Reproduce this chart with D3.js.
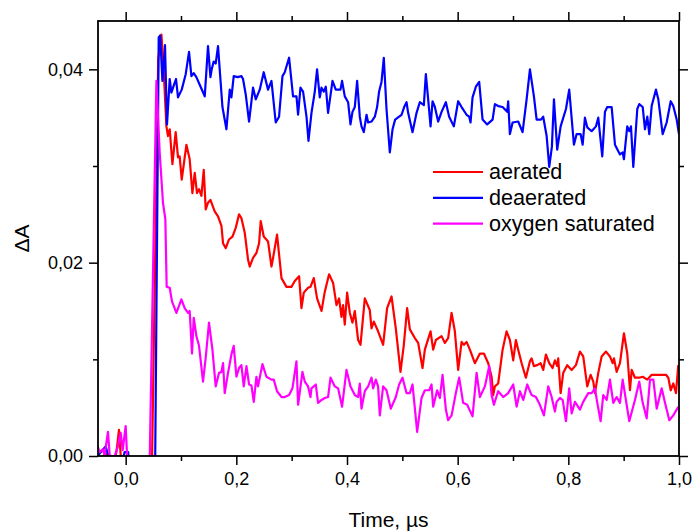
<!DOCTYPE html>
<html>
<head>
<meta charset="utf-8">
<script src="https://cdn.jsdelivr.net/npm/d3@7"></script>
<style>
  body { margin: 0; background: #fff; }
  svg { display: block; font-family: "Liberation Sans", Arial, sans-serif; }
</style>
</head>
<body>
<svg class="kinetics"></svg>
<script>
// Legend / series
const seriesNames = ["aerated", "deaerated", "oxygen saturated"];
const seriesColors = ["#ff0000", "#0000ff", "#ff00ff"];

// Ticks
const xMajorTicks = [0, 0.2, 0.4, 0.6, 0.8, 1.0];
const xMinorTicks = [0.1, 0.3, 0.5, 0.7, 0.9];
const yMajorTicks = [0, 0.02, 0.04];
const yMinorTicks = [0.01, 0.03];

// [time (µs), ΔA]
const aerated = [[-0.0506,-0.0006],[-0.0398,0],[-0.0362,0.0003],[-0.0326,-0.0006],[-0.0199,-0.0006],[-0.0163,0.0006],[-0.0121,0.0027],[-0.009,0.0001],[-0.0054,-0.0006],[0.0476,-0.0006],[0.0588,0.041],[0.0646,0.0436],[0.0687,0.04],[0.0736,0.0341],[0.0765,0.0331],[0.0796,0.0338],[0.0845,0.0302],[0.0904,0.0335],[0.0946,0.0309],[0.0976,0.031],[0.1013,0.0286],[0.1098,0.0322],[0.1157,0.0307],[0.1206,0.0272],[0.1248,0.0293],[0.1289,0.0272],[0.1326,0.0276],[0.1369,0.0269],[0.1411,0.0296],[0.1447,0.0255],[0.1488,0.0262],[0.1532,0.0265],[0.1609,0.0253],[0.1669,0.0248],[0.1731,0.0238],[0.176,0.022],[0.1808,0.0215],[0.1868,0.0224],[0.193,0.0227],[0.1989,0.0236],[0.2049,0.025],[0.2092,0.0246],[0.2152,0.0231],[0.2212,0.0203],[0.2242,0.0196],[0.2302,0.0205],[0.2363,0.021],[0.2411,0.022],[0.2441,0.0243],[0.2495,0.0227],[0.2573,0.0222],[0.2635,0.0196],[0.2664,0.0205],[0.2736,0.0229],[0.2816,0.0184],[0.2906,0.0175],[0.2996,0.0175],[0.3056,0.0181],[0.3134,0.0186],[0.3177,0.0153],[0.3219,0.0169],[0.3297,0.0174],[0.334,0.0175],[0.34,0.0184],[0.3459,0.0163],[0.3539,0.015],[0.3599,0.017],[0.3676,0.0188],[0.3749,0.0179],[0.381,0.0156],[0.3857,0.0163],[0.39,0.0144],[0.3929,0.0156],[0.396,0.0136],[0.4002,0.0169],[0.4051,0.0148],[0.4099,0.0138],[0.4141,0.015],[0.4201,0.012],[0.4244,0.0115],[0.4322,0.0163],[0.4412,0.0151],[0.4443,0.0132],[0.4485,0.0139],[0.4562,0.0129],[0.4653,0.0115],[0.4725,0.0153],[0.4805,0.0165],[0.4882,0.0132],[0.4967,0.0087],[0.5027,0.0115],[0.5087,0.0153],[0.5136,0.0131],[0.5226,0.0122],[0.5286,0.0117],[0.5365,0.0091],[0.5407,0.011],[0.551,0.0129],[0.5557,0.011],[0.5606,0.012],[0.5709,0.0124],[0.5769,0.0117],[0.5828,0.0122],[0.589,0.0148],[0.5949,0.0129],[0.6009,0.0089],[0.6071,0.0118],[0.6112,0.0115],[0.6161,0.0118],[0.6221,0.011],[0.6311,0.0096],[0.6402,0.0106],[0.6474,0.0106],[0.6552,0.0096],[0.6613,0.0082],[0.6642,0.0063],[0.6673,0.0072],[0.6732,0.0075],[0.6812,0.011],[0.6884,0.0129],[0.6944,0.012],[0.7004,0.0099],[0.7052,0.012],[0.7094,0.011],[0.7156,0.0096],[0.7233,0.0081],[0.7306,0.0098],[0.7336,0.0101],[0.7378,0.0093],[0.7438,0.0094],[0.7499,0.0096],[0.7546,0.0089],[0.7595,0.0105],[0.7655,0.0096],[0.7716,0.0091],[0.7758,0.0099],[0.7799,0.0093],[0.7817,0.0101],[0.7861,0.0065],[0.7908,0.0086],[0.798,0.0094],[0.806,0.0089],[0.8137,0.0094],[0.821,0.0108],[0.8269,0.0103],[0.8342,0.0072],[0.8403,0.0084],[0.8451,0.0077],[0.8481,0.0065],[0.8541,0.0086],[0.8602,0.0103],[0.868,0.0108],[0.8752,0.0103],[0.8801,0.0096],[0.8825,0.0101],[0.8873,0.0087],[0.8933,0.0096],[0.9005,0.0127],[0.9065,0.0106],[0.9114,0.0068],[0.9145,0.0089],[0.9204,0.0081],[0.9282,0.0081],[0.9344,0.0082],[0.9427,0.0079],[0.9506,0.0084],[0.9626,0.0084],[0.9765,0.0084],[0.9807,0.0081],[0.985,0.0068],[0.9897,0.0075],[0.9946,0.0065],[0.9987,0.0094]];

const deaerated = [[-0.0506,0],[-0.0434,0.0005],[-0.0362,0.001],[-0.031,0],[-0.0036,0],[-0.0018,0.0004],[0.0045,0.0004],[0.0063,-0.0009],[0.0533,-0.0009],[0.0597,0.0433],[0.0624,0.0435],[0.0664,0.0388],[0.0711,0.0425],[0.0747,0.0343],[0.0796,0.039],[0.0826,0.0376],[0.0873,0.0384],[0.091,0.039],[0.0946,0.0371],[0.1013,0.0379],[0.1085,0.0395],[0.1145,0.0418],[0.1188,0.0393],[0.123,0.0396],[0.1278,0.0392],[0.1338,0.0384],[0.1392,0.0377],[0.1429,0.0372],[0.1488,0.0424],[0.1532,0.0392],[0.1555,0.04],[0.1591,0.0408],[0.1627,0.0406],[0.1669,0.0424],[0.1749,0.0361],[0.1821,0.0338],[0.1881,0.0379],[0.1911,0.0371],[0.1953,0.0393],[0.2025,0.0392],[0.2092,0.0393],[0.2121,0.039],[0.217,0.0374],[0.223,0.0346],[0.2302,0.0381],[0.2351,0.0369],[0.2423,0.0379],[0.2495,0.0397],[0.2573,0.0379],[0.2635,0.0388],[0.2712,0.0345],[0.2772,0.0351],[0.2834,0.0393],[0.2875,0.0397],[0.2953,0.0412],[0.3025,0.0372],[0.3087,0.0372],[0.3116,0.0353],[0.3159,0.0381],[0.3206,0.0377],[0.3268,0.0351],[0.3304,0.0326],[0.3358,0.0355],[0.3418,0.0377],[0.3459,0.04],[0.3508,0.0371],[0.3539,0.0381],[0.3581,0.0377],[0.3617,0.0382],[0.3658,0.0355],[0.3738,0.0388],[0.3797,0.0379],[0.3882,0.0379],[0.3911,0.0388],[0.396,0.0372],[0.402,0.0366],[0.4063,0.0343],[0.4099,0.0356],[0.4141,0.0361],[0.4183,0.0388],[0.4231,0.0351],[0.4262,0.0341],[0.4304,0.0335],[0.4353,0.0353],[0.4382,0.0345],[0.4443,0.0346],[0.4503,0.0351],[0.4544,0.0361],[0.458,0.0377],[0.4624,0.0387],[0.4665,0.0412],[0.4714,0.0359],[0.4774,0.0314],[0.4823,0.0338],[0.487,0.0348],[0.4942,0.0351],[0.4986,0.0353],[0.5033,0.0361],[0.5076,0.0366],[0.5105,0.0355],[0.5184,0.0335],[0.5257,0.0355],[0.5316,0.0366],[0.5389,0.0363],[0.5425,0.0395],[0.5467,0.0369],[0.551,0.0341],[0.5546,0.0367],[0.5588,0.0361],[0.5647,0.0346],[0.5709,0.0356],[0.5787,0.0366],[0.5846,0.0351],[0.5931,0.0341],[0.6009,0.0367],[0.6071,0.0361],[0.6161,0.0353],[0.6208,0.0351],[0.6233,0.0345],[0.6269,0.0371],[0.6329,0.0382],[0.6389,0.0387],[0.645,0.0348],[0.6533,0.0343],[0.6631,0.0348],[0.6673,0.0364],[0.6732,0.0362],[0.6812,0.0361],[0.6895,0.0356],[0.6913,0.0367],[0.6944,0.0333],[0.6993,0.0345],[0.7094,0.0346],[0.7173,0.0335],[0.7246,0.0369],[0.7306,0.04],[0.7378,0.0372],[0.7427,0.0348],[0.7505,0.0348],[0.7546,0.0351],[0.7608,0.0331],[0.7655,0.0299],[0.7703,0.032],[0.774,0.0369],[0.7799,0.0317],[0.7861,0.0341],[0.7957,0.0359],[0.8016,0.0379],[0.8101,0.0322],[0.815,0.0333],[0.8222,0.0333],[0.8259,0.0322],[0.83,0.035],[0.8342,0.034],[0.8421,0.0336],[0.8499,0.0341],[0.8541,0.035],[0.8613,0.031],[0.8662,0.0356],[0.8703,0.0361],[0.8783,0.0361],[0.8843,0.0322],[0.8933,0.0312],[0.8982,0.0314],[0.9005,0.0307],[0.9065,0.0341],[0.9101,0.0336],[0.9132,0.0341],[0.9174,0.0299],[0.9246,0.0359],[0.9282,0.0364],[0.9344,0.0361],[0.9385,0.0338],[0.9427,0.0351],[0.9463,0.0333],[0.9506,0.0362],[0.9584,0.0379],[0.9626,0.0369],[0.9705,0.0333],[0.9777,0.0345],[0.985,0.0367],[0.9897,0.0362],[0.9958,0.0348],[1.0,0.0333]];

const oxygenSaturated = [[-0.0506,0.001],[-0.047,0.0004],[-0.0416,0.0007],[-0.038,0.0001],[-0.032,0.0025],[-0.0289,0.0001],[-0.0259,0],[-0.0199,0],[-0.0145,0.0009],[-0.009,0.0024],[-0.0054,0.0006],[0,0.0031],[0.0031,-0.0006],[0.0434,-0.0006],[0.0555,0.0388],[0.0615,0.0314],[0.0674,0.0262],[0.0717,0.0245],[0.0741,0.0175],[0.0796,0.0174],[0.0837,0.016],[0.0917,0.0148],[0.1007,0.0162],[0.1067,0.0153],[0.1127,0.0148],[0.1157,0.015],[0.1199,0.0106],[0.123,0.0143],[0.1278,0.0124],[0.1326,0.0114],[0.1398,0.0077],[0.1447,0.0102],[0.1506,0.0138],[0.1568,0.011],[0.1627,0.0072],[0.1687,0.0086],[0.1731,0.0087],[0.176,0.0096],[0.179,0.0065],[0.185,0.0086],[0.1911,0.0105],[0.1953,0.0114],[0.2002,0.0082],[0.2049,0.0091],[0.2092,0.0094],[0.2134,0.0072],[0.2183,0.0093],[0.223,0.0074],[0.2273,0.0073],[0.2315,0.0056],[0.2363,0.0082],[0.2392,0.0072],[0.2472,0.0095],[0.2544,0.0082],[0.2635,0.0079],[0.2676,0.0079],[0.2736,0.0067],[0.2816,0.0061],[0.2875,0.0061],[0.2953,0.0063],[0.3014,0.007],[0.3087,0.0098],[0.3116,0.0053],[0.3195,0.0087],[0.3237,0.0077],[0.3297,0.0072],[0.334,0.0061],[0.3358,0.007],[0.3436,0.0074],[0.3477,0.0055],[0.3539,0.0058],[0.3599,0.006],[0.3658,0.0061],[0.3702,0.0081],[0.378,0.0072],[0.3839,0.007],[0.3911,0.0051],[0.3991,0.0089],[0.4063,0.0072],[0.4141,0.0063],[0.4201,0.0061],[0.4231,0.0075],[0.4262,0.0049],[0.4322,0.0067],[0.4382,0.0072],[0.4443,0.0081],[0.4472,0.007],[0.4521,0.0079],[0.4562,0.0072],[0.4593,0.0042],[0.4653,0.0072],[0.4714,0.0068],[0.4792,0.0049],[0.4882,0.0061],[0.4942,0.0074],[0.5003,0.0081],[0.5076,0.0065],[0.5136,0.0065],[0.5184,0.0074],[0.5268,0.0025],[0.5347,0.006],[0.5407,0.0068],[0.5485,0.0068],[0.5528,0.0074],[0.5557,0.0051],[0.5629,0.0068],[0.5678,0.006],[0.5727,0.0084],[0.5787,0.0048],[0.5828,0.0037],[0.589,0.0042],[0.5967,0.0065],[0.6027,0.0081],[0.6099,0.0055],[0.6172,0.0053],[0.6269,0.0041],[0.6342,0.0086],[0.6402,0.0061],[0.6492,0.0072],[0.657,0.0093],[0.6613,0.0063],[0.6655,0.0053],[0.6732,0.0067],[0.6823,0.0061],[0.6913,0.0065],[0.7004,0.0074],[0.7065,0.0051],[0.7125,0.0067],[0.7185,0.0058],[0.7257,0.0074],[0.7336,0.0063],[0.7414,0.0061],[0.7486,0.0053],[0.7559,0.0042],[0.7637,0.0072],[0.7698,0.0061],[0.7758,0.0046],[0.7788,0.0056],[0.7848,0.006],[0.7897,0.0058],[0.7957,0.0036],[0.8016,0.007],[0.806,0.0044],[0.812,0.0056],[0.821,0.0048],[0.8269,0.0056],[0.836,0.0065],[0.8421,0.0065],[0.8481,0.007],[0.8523,0.0055],[0.8584,0.0036],[0.8631,0.0063],[0.8693,0.0058],[0.8752,0.0079],[0.8812,0.0055],[0.8873,0.0061],[0.8933,0.0055],[0.8982,0.0079],[0.9054,0.0053],[0.9101,0.0036],[0.9204,0.0058],[0.9282,0.0077],[0.9344,0.0055],[0.9416,0.0039],[0.9476,0.0079],[0.9536,0.0079],[0.9597,0.0049],[0.9687,0.007],[0.9747,0.0055],[0.9825,0.0037],[0.9897,0.0042],[0.9987,0.0051]];

const allSeries = [aerated, deaerated, oxygenSaturated];

function makeChart() {
    const svgWidth = 695,
        svgHeight = 532;
    const margin = { top: 21, right: 16, bottom: 76, left: 98 };
    const width = svgWidth - margin.left - margin.right;
    const height = svgHeight - margin.top - margin.bottom;

    const canvas = d3.select(".kinetics")
        .attr("width", svgWidth)
        .attr("height", svgHeight);

    const plotArea = canvas.append("g")
        .attr("transform", `translate(${margin.left},${margin.top})`);

    // Scales
    const x = d3.scaleLinear().domain([-0.05, 1.0]).range([0, width]);
    const y = d3.scaleLinear().domain([0, 0.045]).range([height, 0]);

    const comma = digits => d => d.toFixed(digits).replace(".", ",");

    plotArea.append("clipPath")
        .attr("id", "plot-clip")
        .append("rect")
        .attr("width", width)
        .attr("height", height);

    // Traces
    const line = d3.line()
        .x(d => x(d[0]))
        .y(d => y(d[1]));

    plotArea.append("g")
        .attr("clip-path", "url(#plot-clip)")
        .selectAll("path")
        .data(allSeries)
        .enter().append("path")
        .attr("fill", "none")
        .attr("stroke", (d, i) => seriesColors[i])
        .attr("stroke-width", 2.2)
        .attr("stroke-linejoin", "round")
        .attr("d", line);

    // Axes (ticks outward on every side, labels bottom/left only)
    function styleAxis(g) {
        g.select(".domain").remove();
        g.selectAll("line").attr("stroke", "#000").attr("stroke-width", 1.5);
        g.selectAll("text")
            .attr("fill", "#000")
            .style("font-family", "'Liberation Sans', Arial, sans-serif")
            .style("font-size", "18px");
    }

    plotArea.append("g")
        .attr("transform", `translate(0,${height})`)
        .call(d3.axisBottom(x).tickValues(xMajorTicks).tickSize(9).tickPadding(7).tickFormat(comma(1)))
        .call(styleAxis);
    plotArea.append("g")
        .attr("transform", `translate(0,${height})`)
        .call(d3.axisBottom(x).tickValues(xMinorTicks).tickSize(5).tickFormat(""))
        .call(styleAxis);
    plotArea.append("g")
        .call(d3.axisTop(x).tickValues(xMajorTicks).tickSize(9).tickFormat(""))
        .call(styleAxis);
    plotArea.append("g")
        .call(d3.axisTop(x).tickValues(xMinorTicks).tickSize(5).tickFormat(""))
        .call(styleAxis);

    plotArea.append("g")
        .call(d3.axisLeft(y).tickValues(yMajorTicks).tickSize(9).tickPadding(6).tickFormat(comma(2)))
        .call(styleAxis);
    plotArea.append("g")
        .call(d3.axisLeft(y).tickValues(yMinorTicks).tickSize(5).tickFormat(""))
        .call(styleAxis);
    plotArea.append("g")
        .attr("transform", `translate(${width},0)`)
        .call(d3.axisRight(y).tickValues(yMajorTicks).tickSize(9).tickFormat(""))
        .call(styleAxis);
    plotArea.append("g")
        .attr("transform", `translate(${width},0)`)
        .call(d3.axisRight(y).tickValues(yMinorTicks).tickSize(5).tickFormat(""))
        .call(styleAxis);

    // Frame
    plotArea.append("rect")
        .attr("width", width)
        .attr("height", height)
        .attr("fill", "none")
        .attr("stroke", "#000")
        .attr("stroke-width", 1.8);

    // Axis labels
    canvas.append("text")
        .attr("x", margin.left + width / 2)
        .attr("y", 527)
        .attr("text-anchor", "middle")
        .style("font-size", "21px")
        .text("Time, µs");

    canvas.append("text")
        .attr("transform", `translate(29,${margin.top + height / 2}) rotate(-90)`)
        .attr("text-anchor", "middle")
        .style("font-size", "21px")
        .text("ΔA");

    // Legend
    const legend = canvas.append("g")
        .attr("transform", "translate(433,172)");
    const rows = legend.selectAll("g")
        .data(seriesNames)
        .enter().append("g")
        .attr("transform", (d, i) => `translate(0,${i * 25.8})`);
    rows.append("line")
        .attr("x1", 0).attr("x2", 50)
        .attr("stroke", (d, i) => seriesColors[i])
        .attr("stroke-width", 2.2);
    rows.append("text")
        .attr("x", 56)
        .attr("y", 7)
        .style("font-size", "21.6px")
        .text(d => d);
}

makeChart();
</script>
</body>
</html>
